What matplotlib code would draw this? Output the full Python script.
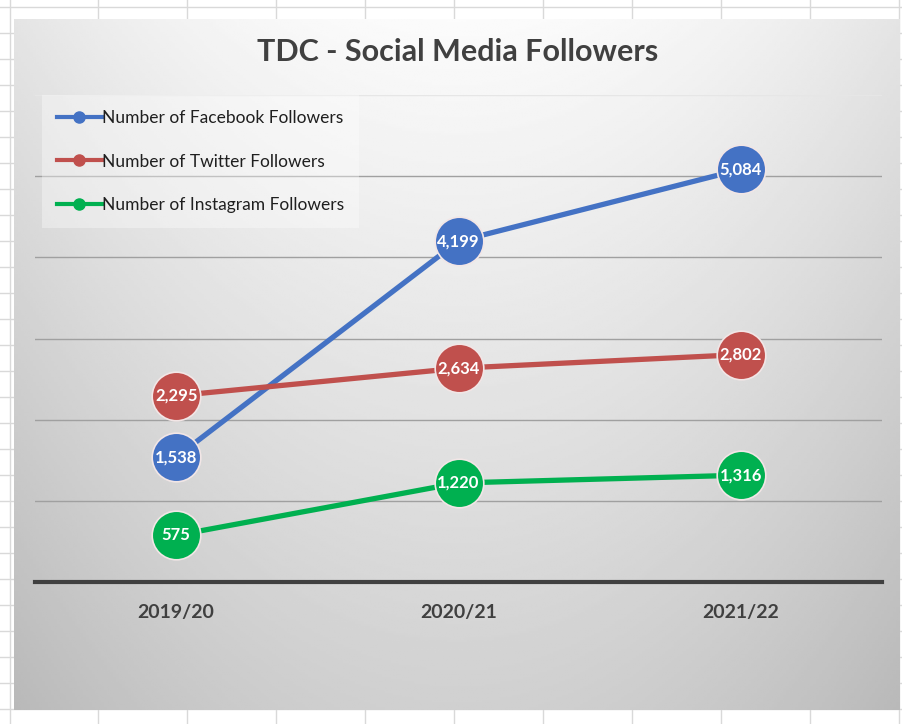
import numpy as np
import matplotlib
matplotlib.use("Agg")
import matplotlib.pyplot as plt

years = ["2019/20", "2020/21", "2021/22"]
facebook = [1538, 4199, 5084]
twitter = [2295, 2634, 2802]
instagram = [575, 1220, 1316]

series = [
	("Number of Facebook Followers", facebook, "#4472C4"),
	("Number of Twitter Followers", twitter, "#C0504D"),
	("Number of Instagram Followers", instagram, "#00B050"),
]

plt.rcParams['font.family'] = ['Lato', 'DejaVu Sans']

W, H = 902, 724
fig = plt.figure(figsize=(W/100, H/100), dpi=100, facecolor="white")

# spreadsheet cells behind the chart
bg = fig.add_axes([0, 0, 1, 1])
bg.set_xlim(0, W)
bg.set_ylim(H, 0)
bg.axis("off")
for x in [10] + list(np.arange(98, W, 89)):
	bg.axvline(x, color="#d9d9d9", lw=1)
for y in np.arange(7, H, 26):
	bg.axhline(y, color="#d9d9d9", lw=1)

# chart area gradient
gx = np.linspace(-1, 1, 300)
gy = np.linspace(0, 1, 300)
XX, YY = np.meshgrid(gx, gy)
shade = 0.985 - 0.09 * XX**2 - 0.17 * YY
bg.imshow(shade, cmap="gray", vmin=0, vmax=1, extent=[14, 900, 710, 19],
	aspect="auto", zorder=2)

ax = fig.add_axes([35/W, 1 - 582/H, 847/W, (582 - 95)/H])
ax.set_facecolor("none")
ax.set_xlim(-0.5, 2.5)
ax.set_ylim(0, 6000)

for v in range(1000, 6001, 1000):
	ax.axhline(v, color="#a0a0a0" if v < 6000 else "#e6e6e6", lw=1, zorder=1)
ax.axhline(0, color="#404040", lw=3, zorder=2, clip_on=False)

xs = np.arange(len(years))
for name, vals, col in series:
	ax.plot(xs, vals, color=col, lw=3.8, zorder=3, solid_capstyle="round")
	ax.plot(xs, vals, "o", color=col, ms=35, mec="#f2e6e6", mew=1.2, zorder=4)
	for x, v in zip(xs, vals):
		ax.text(x, v, f"{v:,}", color="white", fontsize=12, fontweight="bold",
			ha="center", va="center", zorder=5)

hands = [plt.Line2D([], [], color=c, lw=3, marker="o", ms=8) for _, _, c in series]
leg = ax.legend(hands, [s[0] for s in series], loc="upper left",
	bbox_to_anchor=(0.008, 1.0), borderaxespad=0, fontsize=12.5, handlelength=2.6,
	handletextpad=0.0, labelspacing=1.6, borderpad=0.85, frameon=True, fancybox=False)
leg.get_frame().set_facecolor("white")
leg.get_frame().set_alpha(0.35)
leg.get_frame().set_edgecolor("none")
for t in leg.get_texts():
	t.set_color("#1f1f1f")

ax.set_xticks(xs)
ax.set_xticklabels(years, fontsize=14, fontweight="bold", color="#404040")
ax.tick_params(axis="x", length=0, pad=16)
ax.set_yticks([])
for s in ax.spines.values():
	s.set_visible(False)

fig.text(458/W, 1 - 52/H, "TDC - Social Media Followers", ha="center", va="center",
	fontsize=22, fontweight="bold", color="#404040")

fig.savefig("out.png", dpi=100)
